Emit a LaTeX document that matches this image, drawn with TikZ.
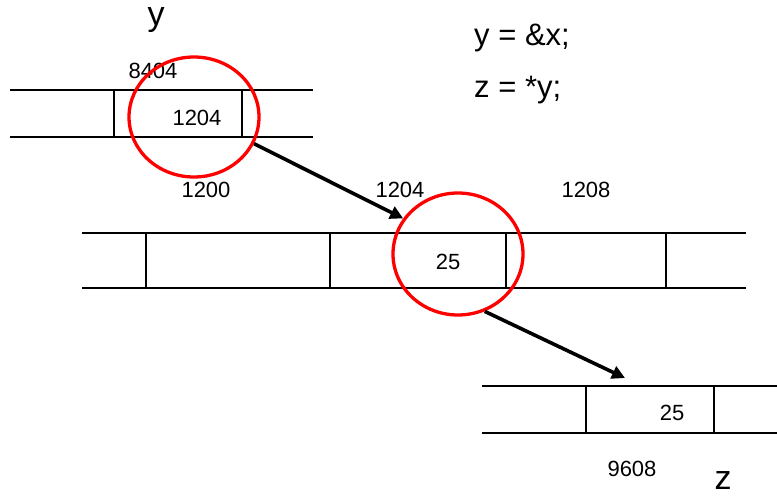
\documentclass[tikz,border=0pt]{standalone}
\usepackage{fontspec}
\setmainfont{Liberation Sans}
\usepackage{tikz}
\usetikzlibrary{arrows.meta, shapes.geometric}
\definecolor{ringred}{HTML}{FF0000}

\begin{document}
\begin{tikzpicture}[x=1pt, y=-1pt,
    every node/.style={font=\fontsize{22}{26}\selectfont, inner sep=0pt},
    cell/.style={line width=1.8pt},
    ring/.style={draw=ringred, line width=3.3pt, ellipse,
                 minimum width=130pt, minimum height=120pt},
    ptr/.style={line width=3.6pt, -{Triangle[length=13pt, width=13pt]}},
    big/.style={font=\fontsize{31}{36}\selectfont}]
  \useasboundingbox (0,0) rectangle (777,496);

  % memory words
  \draw[cell] (10,90) -- (313,90) (10,137) -- (313,137);
  \draw[cell] (114,90) -- (114,137) (242,90) -- (242,137);
  \draw[cell] (82,233) -- (746,233) (82,288) -- (746,288);
  \foreach \xx in {146, 330, 506, 666}
    \draw[cell] (\xx,233) -- (\xx,288);
  \draw[cell] (482,386) -- (777,386) (482,433) -- (777,433);
  \draw[cell] (586,386) -- (586,433) (714,386) -- (714,433);

  % contents and addresses
  \node (yaddr) at (153,71) {8404};
  \node (yval) at (197,118) {1204};
  \node (a1200) at (206,190) {1200};
  \node (a1204) at (400,190) {1204};
  \node (a1208) at (586,190) {1208};
  \node (xval) at (448,262) {25};
  \node (zval) at (672,413) {25};
  \node (zaddr) at (632,469) {9608};

  % variable names and code
  \node[font=\fontsize{34}{40}\selectfont] (yname) at (156,20) {y};
  \node[font=\fontsize{34}{40}\selectfont] (zname) at (723,481) {z};
  \node[big, anchor=base west] (line1) at (474,45) {y = \&x;};
  \node[big, anchor=base west] (line2) at (474,97) {z = *y;};

  % dereference path
  \node[ring] (ringy) at (194,117) {};
  \node[ring, minimum height=122pt] (ringx) at (458,254) {};
  \coordinate (zin) at (625,378);
  \draw[ptr] (ringy.-24) -- (ringx.147);
  \draw[ptr] (ringx.-65) -- (zin);
\end{tikzpicture}
\end{document}
